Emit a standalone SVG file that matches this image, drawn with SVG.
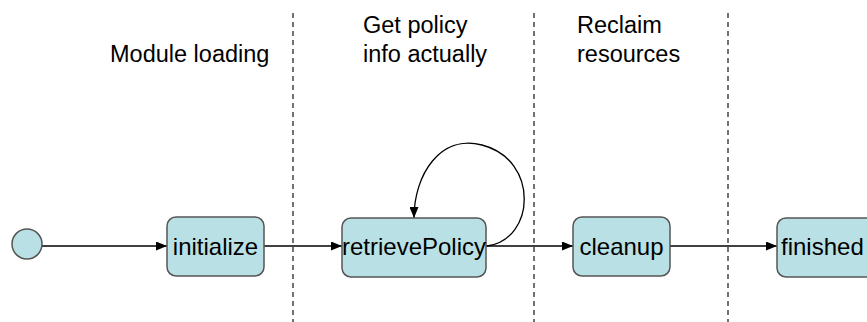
<svg xmlns="http://www.w3.org/2000/svg" width="867" height="322" viewBox="0 0 867 322">
  <style>
    .state { fill: #b9e0e4; stroke: #555; stroke-width: 1.5; }
    .label { font-family: "Liberation Sans", Arial, sans-serif; font-size: 24px; fill: #000; }
    .phase { font-family: "Liberation Sans", Arial, sans-serif; font-size: 23.5px; fill: #000; }
    .edge { fill: none; stroke: #000; stroke-width: 1.3; }
    .lane { stroke: #444; stroke-width: 1.5; stroke-dasharray: 5 4; }
  </style>
  <defs>
    <marker id="arrow" markerWidth="11" markerHeight="9" refX="11" refY="4.5" orient="auto" markerUnits="userSpaceOnUse">
      <path d="M0,0 L11,4.5 L0,9 Z" fill="#000"/>
    </marker>
  </defs>
  <rect width="867" height="322" fill="#fff"/>

  <!-- phase separators -->
  <g id="lanes">
    <line class="lane" x1="293" y1="13" x2="293" y2="322"/>
    <line class="lane" x1="534" y1="13" x2="534" y2="322"/>
    <line class="lane" x1="728" y1="13" x2="728" y2="322"/>
  </g>

  <!-- phase titles -->
  <g id="phases">
    <text class="phase" x="110" y="62">Module loading</text>
    <text class="phase" x="363" y="33">Get policy</text>
    <text class="phase" x="363" y="62">info actually</text>
    <text class="phase" x="577" y="33">Reclaim</text>
    <text class="phase" x="577" y="62">resources</text>
  </g>

  <!-- transitions -->
  <g id="connectors">
    <line class="edge" x1="42" y1="246" x2="167" y2="246" marker-end="url(#arrow)"/>
    <line class="edge" x1="264" y1="246" x2="342" y2="246" marker-end="url(#arrow)"/>
    <line class="edge" x1="486" y1="246" x2="573" y2="246" marker-end="url(#arrow)"/>
    <line class="edge" x1="670" y1="246" x2="777" y2="246" marker-end="url(#arrow)"/>
    <path class="edge" d="M487,246 C535,240 540,160 482,145 C440,134 414,175 414,218" marker-end="url(#arrow)"/>
  </g>

  <g id="start">
    <circle class="state" cx="27" cy="244" r="15"/>
  </g>

  <g id="initialize">
    <rect class="state" x="167" y="217" width="97" height="59" rx="9"/>
    <text class="label" x="215.5" y="255" text-anchor="middle">initialize</text>
  </g>

  <g id="retrievePolicy">
    <rect class="state" x="342" y="218" width="144" height="59" rx="9"/>
    <text class="label" x="414" y="255" text-anchor="middle">retrievePolicy</text>
  </g>

  <g id="cleanup">
    <rect class="state" x="573" y="217" width="97" height="59" rx="9"/>
    <text class="label" x="621.5" y="255" text-anchor="middle">cleanup</text>
  </g>

  <g id="finished">
    <rect class="state" x="777" y="218" width="100" height="59" rx="9"/>
    <text class="label" x="781" y="255">finished</text>
  </g>
</svg>
